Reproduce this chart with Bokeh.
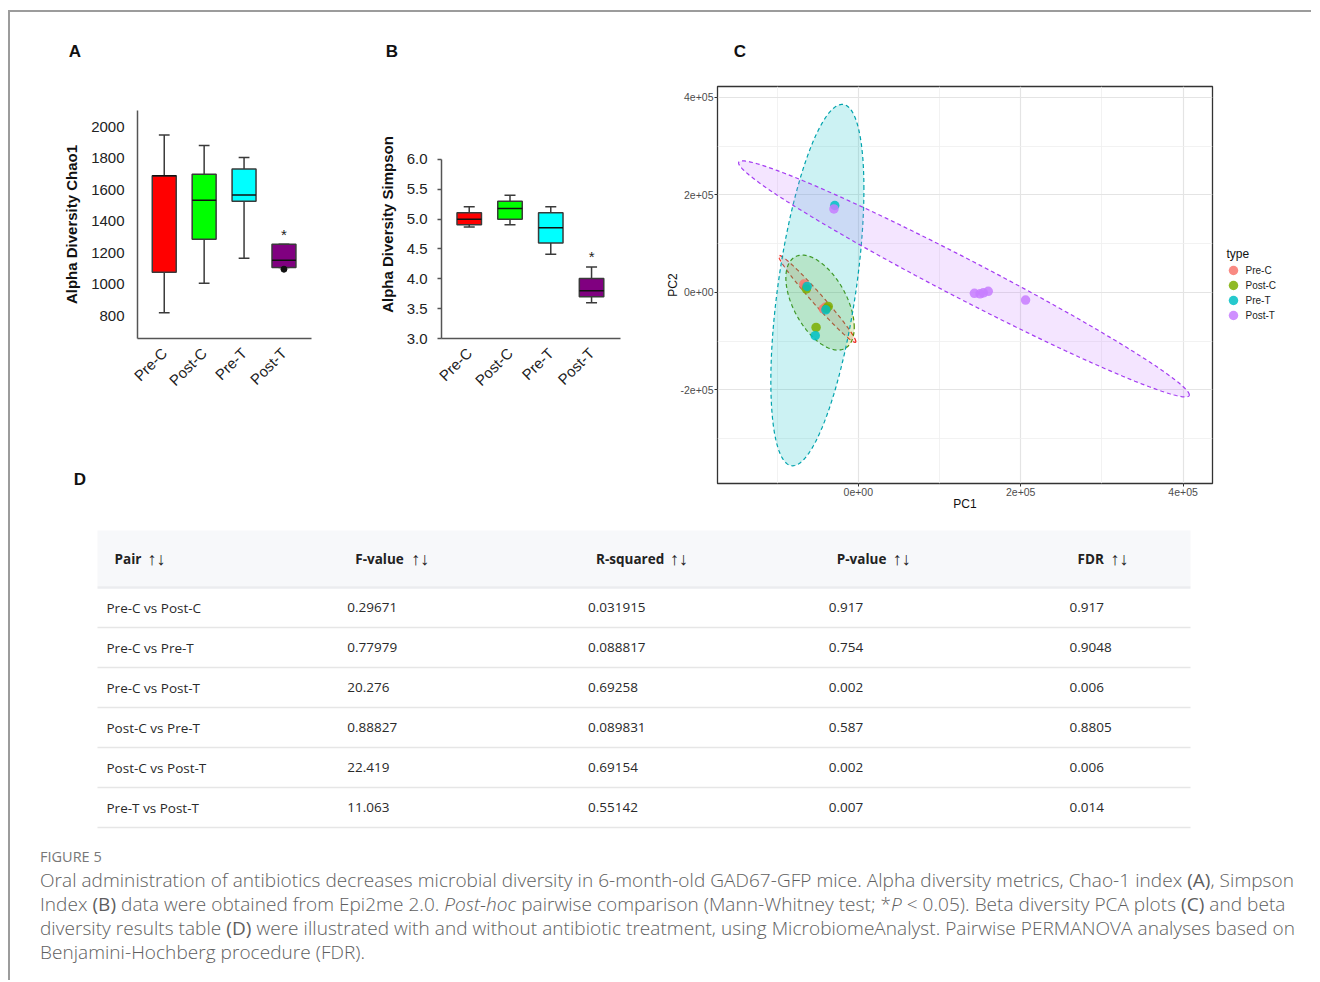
import math
import numpy as np
from bokeh.plotting import figure
from bokeh.models import (Range1d, FixedTicker, Div, Spacer,
                          NumeralTickFormatter, ColumnDataSource)
from bokeh.layouts import row, column
from bokeh.core.properties import value
from bokeh.embed import file_html
from bokeh.resources import INLINE

# ---------------------------------------------------------------- data
groups = ["Pre-C", "Post-C", "Pre-T", "Post-T"]

# Panel A - Chao1 box plots
chao_lower = [817, 1005, 1164, 1105]
chao_q1 = [1075, 1285, 1526, 1105]
chao_median = [1687, 1532, 1566, 1151]
chao_q3 = [1687, 1697, 1731, 1253]
chao_upper = [1947, 1879, 1803, 1253]
chao_outlier_group = [4]
chao_outlier_value = [1094]
chao_ticks = [800, 1000, 1200, 1400, 1600, 1800, 2000]

# Panel B - Simpson box plots
simp_lower = [4.87, 4.905, 4.41, 3.60]
simp_q1 = [4.905, 5.0, 4.60, 3.70]
simp_median = [5.0, 5.18, 4.855, 3.80]
simp_q3 = [5.106, 5.30, 5.106, 4.006]
simp_upper = [5.207, 5.40, 5.207, 4.20]
simp_ticks = [3.0, 3.5, 4.0, 4.5, 5.0, 5.5, 6.0]

signif = ["", "", "", "*"]

# Panel C - PCA scores
pca_x_prec = [-6.7e4, -6.5e4, -4.3e4, -4.0e4]
pca_y_prec = [1.7e4, 1.2e4, -3.4e4, -3.0e4]
pca_x_postc = [-6.4e4, -3.7e4, -3.9e4, -5.2e4]
pca_y_postc = [7.0e3, -2.9e4, -3.3e4, -7.2e4]
pca_x_pret = [-6.3e4, -4.0e4, -5.3e4, -2.9e4]
pca_y_pret = [1.2e4, -3.6e4, -8.9e4, 1.78e5]
pca_x_postt = [-3.0e4, 1.43e5, 1.50e5, 1.54e5, 1.60e5, 2.06e5]
pca_y_postt = [1.71e5, -2.0e3, -3.0e3, -1.0e3, 2.0e3, -1.6e4]

# 95% ellipses: centre, spread along PC1/PC2, correlation
ell_cx = [-5.05e4, -4.71e4, -5.04e4, 1.301e5]
ell_cy = [-1.35e4, -2.11e4, 1.48e4, 2.75e4]
ell_sx = [4.75e4, 4.21e4, 5.73e4, 2.775e5]
ell_sy = [8.91e4, 9.74e4, 3.705e5, 2.42e5]
ell_r = [-0.982, -0.52, 0.532, -0.9825]

pc_major_ticks = [-2e5, 0, 2e5, 4e5]
pc_minor_ticks = [-3e5, -1e5, 1e5, 3e5]
legend_title = "type"

# Panel D - PERMANOVA table
table_headers = ["Pair", "F-value", "R-squared", "P-value", "FDR"]
pairs = ["Pre-C vs Post-C", "Pre-C vs Pre-T", "Pre-C vs Post-T",
         "Post-C vs Pre-T", "Post-C vs Post-T", "Pre-T vs Post-T"]
f_values = [0.29671, 0.77979, 20.276, 0.88827, 22.419, 11.063]
r_squared = [0.031915, 0.088817, 0.69258, 0.089831, 0.69154, 0.55142]
p_values = [0.917, 0.754, 0.002, 0.587, 0.002, 0.007]
fdr_values = [0.917, 0.9048, 0.006, 0.8805, 0.006, 0.014]

caption_title = "FIGURE 5"
caption_lines = [
    "Oral administration of antibiotics decreases microbial diversity in 6-month-old GAD67-GFP mice. "
    "Alpha diversity metrics, Chao-1 index <b>(A)</b>, Simpson",
    "Index <b>(B)</b> data were obtained from Epi2me 2.0. <i>Post-hoc</i> pairwise comparison "
    "(Mann-Whitney test; *<i>P</i> &lt; 0.05). Beta diversity PCA plots <b>(C)</b> and beta",
    "diversity results table <b>(D)</b> were illustrated with and without antibiotic treatment, "
    "using MicrobiomeAnalyst. Pairwise PERMANOVA analyses based on",
    "Benjamini-Hochberg procedure (FDR).",
]

# ---------------------------------------------------------------- styles
FONT = "Liberation Sans"
BOX_FILL = ["#FF0000", "#00FF00", "#00FFFF", "#800080"]
GG_COL = ["#F8766D", "#7CAE00", "#00BFC4", "#C77CFF"]
GG_LINE = ["#EE2B22", "#4E8F00", "#00A3AD", "#A43CF2"]
xs = [1, 2, 3, 4]


def no_align(p):
    if hasattr(p, "frame_align"):
        p.frame_align = False
    return p


def blank_figure(width, height, xr, yr):
    p = figure(width=width, height=height, x_range=Range1d(*xr), y_range=Range1d(*yr),
               output_backend="svg", toolbar_location=None, x_axis_location=None,
               y_axis_location=None, min_border=0)
    no_align(p)
    p.grid.visible = False
    p.outline_line_color = None
    return p


def box_figure(width, height, borders, xr, yr, ticks, lower, q1, med, q3, upper,
               ylabel, tick_out, standoff, label_standoff, fmt=None, ybounds=None):
    l, r, t, b = borders
    p = figure(width=width, height=height, x_range=Range1d(*xr), y_range=Range1d(*yr),
               output_backend="svg", toolbar_location=None,
               min_border_left=l, min_border_right=r, min_border_top=t, min_border_bottom=b)
    no_align(p)
    p.grid.visible = False
    p.outline_line_color = None
    half, cap = 0.3, 0.135
    src = ColumnDataSource(dict(
        x=xs, lower=lower, q1=q1, med=med, q3=q3, upper=upper, color=BOX_FILL,
        xl=[x - half for x in xs], xr=[x + half for x in xs],
        cl=[x - cap for x in xs], cr=[x + cap for x in xs]))
    kw = dict(source=src, line_color="#3a3a3a", line_width=1.5)
    p.segment(x0="x", y0="q3", x1="x", y1="upper", **kw)
    p.segment(x0="x", y0="q1", x1="x", y1="lower", **kw)
    p.segment(x0="cl", y0="upper", x1="cr", y1="upper", **kw)
    p.segment(x0="cl", y0="lower", x1="cr", y1="lower", **kw)
    p.vbar(x="x", width=2 * half, bottom="q1", top="q3", fill_color="color", **kw)
    p.segment(x0="xl", y0="med", x1="xr", y1="med", source=src,
              line_color="#111111", line_width=1.5)
    p.text(x=xs, y=upper, text=signif, text_align="center", text_baseline="middle",
           y_offset=-10, text_font=value(FONT), text_font_size="15px", text_color="#222222")

    p.xaxis.ticker = FixedTicker(ticks=xs)
    p.xaxis.major_label_overrides = {x: g for x, g in zip(xs, groups)}
    p.xaxis.major_label_orientation = math.pi / 4
    p.xaxis.major_tick_line_color = None
    p.xaxis.major_label_standoff = 6
    p.yaxis.ticker = FixedTicker(ticks=ticks)
    if fmt:
        p.yaxis.formatter = NumeralTickFormatter(format=fmt)
    if ybounds:
        p.yaxis.bounds = ybounds
    p.yaxis.major_tick_out = tick_out
    p.yaxis.major_tick_in = 0
    p.yaxis.major_tick_line_color = "#555555" if tick_out else None
    p.yaxis.major_tick_line_width = 1.3
    p.yaxis.major_label_standoff = standoff
    p.yaxis.axis_label = ylabel
    p.yaxis.axis_label_standoff = label_standoff
    p.yaxis.axis_label_text_font = FONT
    p.yaxis.axis_label_text_font_style = "bold"
    p.yaxis.axis_label_text_font_size = "15px"
    p.yaxis.axis_label_text_color = "#111111"
    for ax in (p.xaxis, p.yaxis):
        ax.minor_tick_line_color = None
        ax.axis_line_color = "#555555"
        ax.axis_line_width = 1.5
        ax.major_label_text_font = FONT
        ax.major_label_text_font_size = "15px"
        ax.major_label_text_color = "#222222"
    return p


def letters_div(width, height, letters):
    spans = "".join(
        '<span style="position:absolute;left:%dpx;top:%dpx;transform:translate(-50%%,-50%%);'
        'font-family:\'Liberation Sans\',Arial,sans-serif;font-weight:bold;font-size:17px;'
        'color:#111;">%s</span>' % (x, y, t) for t, x, y in letters)
    html = '<div style="position:relative;width:%dpx;height:%dpx;">%s</div>' % (width, height, spans)
    return Div(text=html, width=width, height=height, margin=(0, 0, 0, 0))


# ---------------------------------------------------------------- panel A
pA = box_figure(340, 378, (127, 39, 28, 122), (0.33, 4.69), (654, 2102), chao_ticks,
                chao_lower, chao_q1, chao_median, chao_q3, chao_upper,
                "Alpha Diversity Chao1", 0, 13, 8)
pA.scatter(x=chao_outlier_group, y=chao_outlier_value, size=6, color="#111111")

# ---------------------------------------------------------------- panel B
pB = box_figure(300, 378, (91, 30, 28, 122), (0.32, 4.71), (3.0, 6.821), simp_ticks,
                simp_lower, simp_q1, simp_median, simp_q3, simp_upper,
                "Alpha Diversity Simpson", 4, 10, 8, fmt="0.0", ybounds=(3.0, 6.0))

# ---------------------------------------------------------------- panel C
pC = figure(width=564, height=438, x_range=Range1d(-1.734e5, 4.362e5),
            y_range=Range1d(-3.92e5, 4.22e5), output_backend="svg", toolbar_location=None,
            min_border_left=67, min_border_right=2, min_border_top=4, min_border_bottom=37)
no_align(pC)
pC.outline_line_color = "#333333"
pC.outline_line_width = 1.3
pC.xaxis.ticker = FixedTicker(ticks=pc_major_ticks, minor_ticks=pc_minor_ticks)
pC.yaxis.ticker = FixedTicker(ticks=pc_major_ticks, minor_ticks=pc_minor_ticks)
for g in (pC.xgrid, pC.ygrid):
    g.grid_line_color = "#E4E4E4"
    g.grid_line_width = 1.2
    g.minor_grid_line_color = "#EFEFEF"
    g.minor_grid_line_width = 0.8
labels_sci = {-2e5: "-2e+05", 0: "0e+00", 2e5: "2e+05", 4e5: "4e+05"}
for ax in (pC.xaxis, pC.yaxis):
    ax.major_label_overrides = labels_sci
    ax.axis_line_color = None
    ax.minor_tick_line_color = None
    ax.major_tick_line_color = "#333333"
    ax.major_tick_out = 3
    ax.major_tick_in = 0
    ax.major_label_standoff = 0
    ax.major_label_text_font = FONT
    ax.major_label_text_font_size = "10.5px"
    ax.major_label_text_color = "#4D4D4D"
    ax.axis_label_text_font = FONT
    ax.axis_label_text_font_size = "12px"
    ax.axis_label_text_font_style = "normal"
    ax.axis_label_text_color = "#111111"
    ax.axis_label_standoff = -2
pC.xaxis.axis_label = "PC1"
pC.yaxis.axis_label = "PC2"

t = np.linspace(0, 2 * np.pi, 240)
for cx, cy, sx, sy, rr, fc, lc in zip(ell_cx, ell_cy, ell_sx, ell_sy, ell_r, GG_COL, GG_LINE):
    cov = np.array([[sx * sx, rr * sx * sy], [rr * sx * sy, sy * sy]])
    L = np.linalg.cholesky(cov)
    pts = L @ np.vstack([np.cos(t), np.sin(t)])
    pC.patch(cx + pts[0], cy + pts[1], fill_color=fc, fill_alpha=0.2,
             line_color=lc, line_width=1.2, line_dash="4 3")

pca_sets = [(pca_x_prec, pca_y_prec), (pca_x_postc, pca_y_postc),
            (pca_x_pret, pca_y_pret), (pca_x_postt, pca_y_postt)]
for (px, py), c in zip(pca_sets, GG_COL):
    pC.scatter(px, py, size=9.5, fill_color=c, line_color=None, fill_alpha=0.85)

# legend of panel C (drawn in its own small canvas, page pixel coordinates)
pL = blank_figure(98, 438, (1214, 1312), (520, 82))
leg_x, leg_y0, leg_dy = 1226, 270, 15
pL.text(x=[leg_x], y=[leg_y0 - 17], text=[legend_title], text_font=value(FONT),
        text_font_size="12px", text_color="#111111", text_baseline="middle")
leg_y = [leg_y0 + leg_dy * i for i in range(len(groups))]
pL.scatter(x=[leg_x + 7] * len(groups), y=leg_y, size=9.5, fill_color=GG_COL,
           line_color=None, fill_alpha=0.85)
pL.text(x=[leg_x + 19] * len(groups), y=leg_y, text=groups, text_font=value(FONT),
        text_font_size="10px", text_color="#222222", text_baseline="middle")

# ---------------------------------------------------------------- panel D (table)
TFONT = "Open Sans"
pT = blank_figure(1302, 330, (10, 1312), (850, 520))
col_x0, col_w = 106, 240.75
head_y, row_y0, row_h = 558, 607, 40
tbl_left, tbl_right = 97, 1190
arrow_dx = [33, 56, 74, 56, 33]
pT.quad(left=[tbl_left], right=[tbl_right], top=[530], bottom=[586],
        fill_color="#F7F8FA", line_color=None)
pT.segment(x0=[tbl_left], x1=[tbl_right], y0=[587], y1=[587], line_color="#EBECEF", line_width=2.5)
n = len(pairs)
line_y = [row_y0 + row_h * i + row_h / 2 for i in range(n)]
pT.segment(x0=[tbl_left] * n, x1=[tbl_right] * n, y0=line_y, y1=line_y,
           line_color="#E6E6E6", line_width=1.5)
head_x = [col_x0 + col_w * i + 8 for i in range(len(table_headers))]
pT.text(x=head_x, y=[head_y] * len(table_headers), text=table_headers, text_font=value(TFONT),
        text_font_size="13.5px", text_font_style="bold", text_color="#222222",
        text_baseline="middle")
pT.text(x=[hx + d for hx, d in zip(head_x, arrow_dx)], y=[head_y] * len(table_headers),
        text=["\u2191\u2193"] * len(table_headers), text_font=value(FONT),
        text_font_size="18px", text_font_style="bold", text_color="#222222",
        text_baseline="middle")
columns = [pairs, [str(v) for v in f_values], [str(v) for v in r_squared],
           [str(v) for v in p_values], [str(v) for v in fdr_values]]
for ci, colvals in enumerate(columns):
    pT.text(x=[col_x0 + col_w * ci] * n, y=[row_y0 + row_h * i for i in range(n)],
            text=colvals, text_font=value(TFONT), text_font_size="13.5px",
            text_color="#2a2a2a", text_baseline="middle")

# ---------------------------------------------------------------- caption
caption_html = (
    '<div style="padding-left:30px;font-family:\'Open Sans\',sans-serif;color:#5e5e5e;">'
    '<div style="font-size:14.5px;line-height:14px;margin:0 0 4px 0;color:#777777;">'
    + caption_title + '</div>'
    '<div style="font-size:19px;line-height:24px;white-space:nowrap;font-weight:300;'
    'letter-spacing:0.05px;">'
    + "<br>".join(caption_lines) + '</div></div>'
)
caption = Div(text=caption_html, width=1302, height=130, margin=(0, 0, 0, 0))

# ---------------------------------------------------------------- layout
top_letters = letters_div(1302, 70, [("A", 65, 40), ("B", 382, 40), ("C", 730, 40)])
d_letter = letters_div(640, 60, [("D", 70, 20)])
frame_col = "#9c9c9c"
content = column(top_letters, row(column(row(pA, pB), d_letter), pC, pL), pT, caption)
layout = column(
    Spacer(width=1311, height=10),
    row(Spacer(width=8, height=2), Spacer(width=1303, height=2, styles={"background-color": frame_col})),
    row(Spacer(width=8, height=968), Spacer(width=2, height=968, styles={"background-color": frame_col}),
        content),
)

with open("out.html", "w") as f:
    f.write(file_html(layout, INLINE))
